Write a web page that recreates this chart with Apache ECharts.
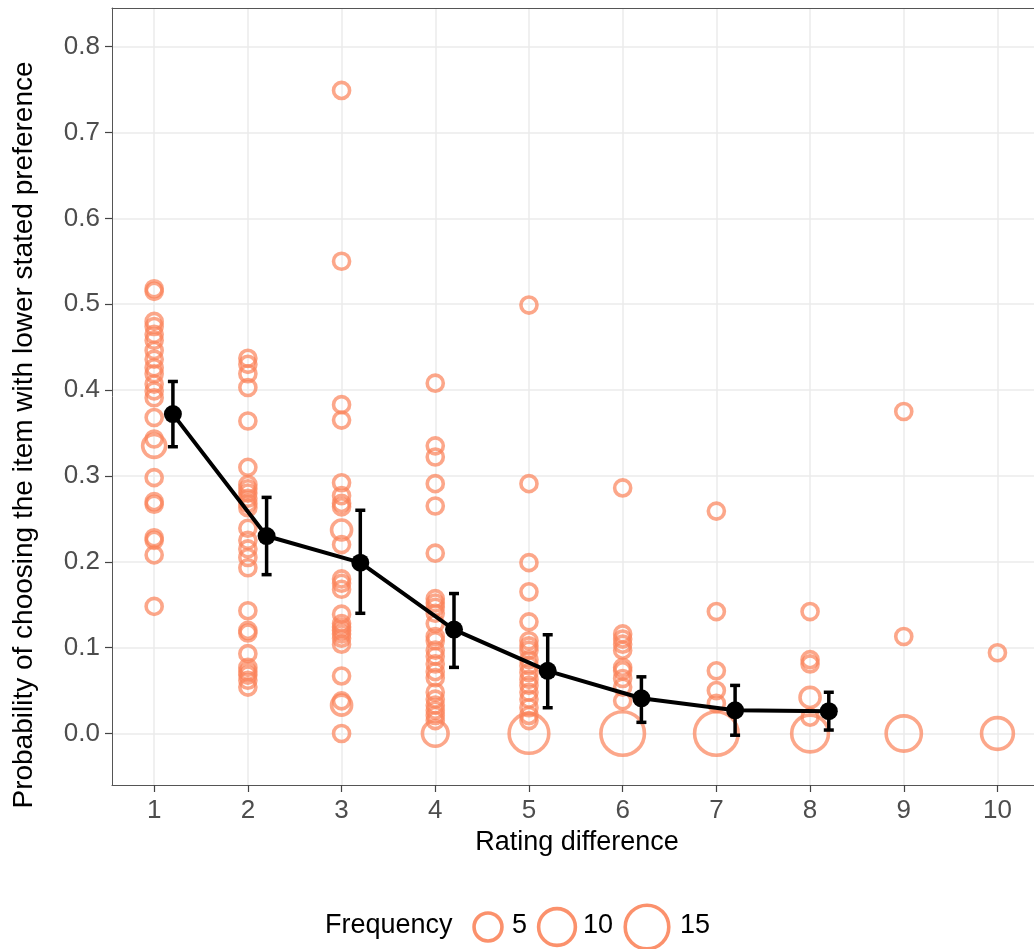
<!DOCTYPE html>
<html>
<head>
<meta charset="utf-8">
<script src="https://cdn.jsdelivr.net/npm/echarts@6/dist/echarts.min.js"></script>
<style>
html,body{margin:0;padding:0;background:#fff;}
#chart{width:1034px;height:949px;}
</style>
</head>
<body>
<div id="chart"></div>
<script>
// ---------- data ----------
const xTicks = [1, 2, 3, 4, 5, 6, 7, 8, 9, 10];
const yTicks = [0, 0.1, 0.2, 0.3, 0.4, 0.5, 0.6, 0.7, 0.8];

// observed probabilities per rating difference: [probability, frequency]
const diff1 = [[0.518,1],[0.515,1],[0.480,1],[0.474,1],[0.465,1],[0.458,1],[0.446,1],[0.436,1],[0.426,1],[0.419,1],[0.407,1],[0.399,1],[0.391,1],[0.368,1],[0.343,1],[0.335,3],[0.298,1],[0.270,1],[0.267,1],[0.228,1],[0.225,1],[0.208,1],[0.148,1]];
const diff2 = [[0.437,1],[0.430,1],[0.419,1],[0.403,1],[0.364,1],[0.310,1],[0.290,1],[0.285,1],[0.280,1],[0.274,1],[0.268,1],[0.263,1],[0.239,1],[0.225,1],[0.215,1],[0.205,1],[0.193,1],[0.143,1],[0.120,1],[0.117,1],[0.093,1],[0.077,1],[0.072,1],[0.068,1],[0.062,1],[0.054,1]];
const diff3 = [[0.749,1],[0.550,1],[0.383,1],[0.365,1],[0.292,1],[0.277,1],[0.268,1],[0.264,1],[0.237,2],[0.220,1],[0.180,1],[0.175,1],[0.168,1],[0.139,1],[0.128,1],[0.124,1],[0.120,1],[0.116,1],[0.111,1],[0.104,1],[0.067,1],[0.038,1],[0.033,2],[0.0,1]];
const diff4 = [[0.408,1],[0.335,1],[0.322,1],[0.291,1],[0.265,1],[0.210,1],[0.157,1],[0.152,1],[0.147,1],[0.140,1],[0.128,1],[0.113,1],[0.108,1],[0.097,1],[0.090,1],[0.081,1],[0.072,1],[0.065,1],[0.048,1],[0.040,1],[0.033,1],[0.027,1],[0.021,1],[0.015,1],[0.0,4]];
const diff5 = [[0.499,1],[0.291,1],[0.199,1],[0.165,1],[0.130,1],[0.108,1],[0.102,1],[0.097,1],[0.086,1],[0.079,1],[0.071,1],[0.063,1],[0.056,1],[0.048,1],[0.040,1],[0.030,1],[0.021,1],[0.015,1],[0.0,12]];
const diff6 = [[0.286,1],[0.116,1],[0.110,1],[0.104,1],[0.097,1],[0.077,1],[0.073,1],[0.064,1],[0.054,1],[0.038,1],[0.0,15]];
const diff7 = [[0.259,1],[0.142,1],[0.073,1],[0.050,1],[0.035,1],[0.0,15]];
const diff8 = [[0.142,1],[0.086,1],[0.081,1],[0.042,2],[0.019,1],[0.0,10]];
const diff9 = [[0.375,1],[0.113,1],[0.0,9]];
const diff10 = [[0.094,1],[0.0,7]];
const columns = [diff1, diff2, diff3, diff4, diff5, diff6, diff7, diff8, diff9, diff10];

// means with error bars (plotted slightly offset to the right)
const meanX = [1.2, 2.2, 3.2, 4.2, 5.2, 6.2, 7.2, 8.2];
const meanY = [0.372, 0.230, 0.199, 0.121, 0.073, 0.041, 0.027, 0.026];
const ciLow = [0.334, 0.185, 0.140, 0.077, 0.030, 0.013, -0.002, 0.004];
const ciHigh = [0.410, 0.275, 0.260, 0.163, 0.115, 0.066, 0.056, 0.048];

const legendFreqs = [5, 10, 15];

// ---------- styling ----------
const ORANGE = 'rgba(251,130,88,0.88)';
const RING = 3.6;
function sizeScale(f) { return 6.5 + 9.57 * Math.sqrt(f); }
const FONT = 'Liberation Sans, Arial, sans-serif';
const BORDER = '#555';

const scatterData = [];
columns.forEach((col, i) => {
  col.forEach(p => scatterData.push([xTicks[i], p[0], p[1]]));
});
const errData = meanX.map((x, i) => [x, ciLow[i], ciHigh[i]]);
const lineData = meanX.map((x, i) => [x, meanY[i]]);

const chart = echarts.init(document.getElementById('chart'));

const legendGraphics = [{
  type: 'text', left: 325, top: 912,
  style: { text: 'Frequency', font: '27px ' + FONT, fill: '#000' }
}];
const legendCx = [488, 557, 647];
const legendTx = [512, 583, 680];
legendFreqs.forEach((f, i) => {
  legendGraphics.push({
    type: 'circle', x: legendCx[i], y: 927,
    shape: { cx: 0, cy: 0, r: sizeScale(f) / 2 },
    style: { fill: 'none', stroke: ORANGE, lineWidth: RING }
  });
  legendGraphics.push({
    type: 'text', left: legendTx[i], top: 912,
    style: { text: String(f), font: '27px ' + FONT, fill: '#000' }
  });
});

const X_MIN = 0.55, X_MAX = 10.39;

chart.setOption({
  animation: false,
  backgroundColor: '#fff',
  grid: { left: 112, right: 0, top: 8, bottom: 164, show: false },
  xAxis: [
    {
      type: 'value', min: X_MIN, max: X_MAX, position: 'bottom',
      axisLine: { show: true, onZero: false, lineStyle: { color: BORDER, width: 1 } },
      axisTick: { show: true, customValues: xTicks, length: 7, lineStyle: { color: '#444', width: 1.2 } },
      axisLabel: { customValues: xTicks, margin: 13, fontSize: 26, fontFamily: FONT, color: '#4D4D4D' },
      splitLine: { show: true, lineStyle: { color: '#EBEBEB', width: 1.5 } }
    },
    {
      type: 'value', min: X_MIN, max: X_MAX, position: 'top',
      axisLine: { show: true, onZero: false, lineStyle: { color: BORDER, width: 1 } },
      axisTick: { show: false }, axisLabel: { show: false }, splitLine: { show: false }
    }
  ],
  yAxis: {
    type: 'value', min: -0.06, max: 0.845,
    axisLine: { show: true, onZero: false, lineStyle: { color: BORDER, width: 1 } },
    axisTick: { show: true, customValues: yTicks, length: 7, lineStyle: { color: '#444', width: 1.2 } },
    axisLabel: { customValues: yTicks, margin: 12, fontSize: 26, fontFamily: FONT, color: '#4D4D4D',
      formatter: v => v.toFixed(1) },
    splitLine: { show: true, lineStyle: { color: '#EBEBEB', width: 1.5 } }
  },
  graphic: [
    {
      type: 'text', x: 24, y: 435, rotation: Math.PI / 2,
      style: { text: 'Probability of choosing the item with lower stated preference',
        font: '28px ' + FONT, fill: '#000', align: 'center', verticalAlign: 'middle' }
    },
    {
      type: 'text', x: 577, y: 843,
      style: { text: 'Rating difference', font: '27px ' + FONT, fill: '#000',
        align: 'center', verticalAlign: 'middle' }
    }
  ].concat(legendGraphics),
  series: [
    {
      type: 'scatter',
      data: scatterData,
      symbol: 'circle',
      symbolSize: v => sizeScale(v[2]),
      itemStyle: { color: 'rgba(0,0,0,0)', borderColor: ORANGE, borderWidth: RING },
      z: 2
    },
    {
      type: 'custom',
      data: errData,
      z: 3,
      renderItem: (params, api) => {
        const x = api.value(0);
        const lo = api.coord([x, api.value(1)]);
        const hi = api.coord([x, api.value(2)]);
        const w = 5;
        const st = { stroke: '#000', lineWidth: 3.5 };
        return {
          type: 'group',
          children: [
            { type: 'line', shape: { x1: lo[0], y1: lo[1], x2: hi[0], y2: hi[1] }, style: st },
            { type: 'line', shape: { x1: hi[0] - w, y1: hi[1], x2: hi[0] + w, y2: hi[1] }, style: st },
            { type: 'line', shape: { x1: lo[0] - w, y1: lo[1], x2: lo[0] + w, y2: lo[1] }, style: st }
          ]
        };
      }
    },
    {
      type: 'line',
      data: lineData,
      symbol: 'circle',
      symbolSize: 18,
      showAllSymbol: true,
      itemStyle: { color: '#000' },
      lineStyle: { color: '#000', width: 4 },
      z: 4
    }
  ]
});
</script>
</body>
</html>
